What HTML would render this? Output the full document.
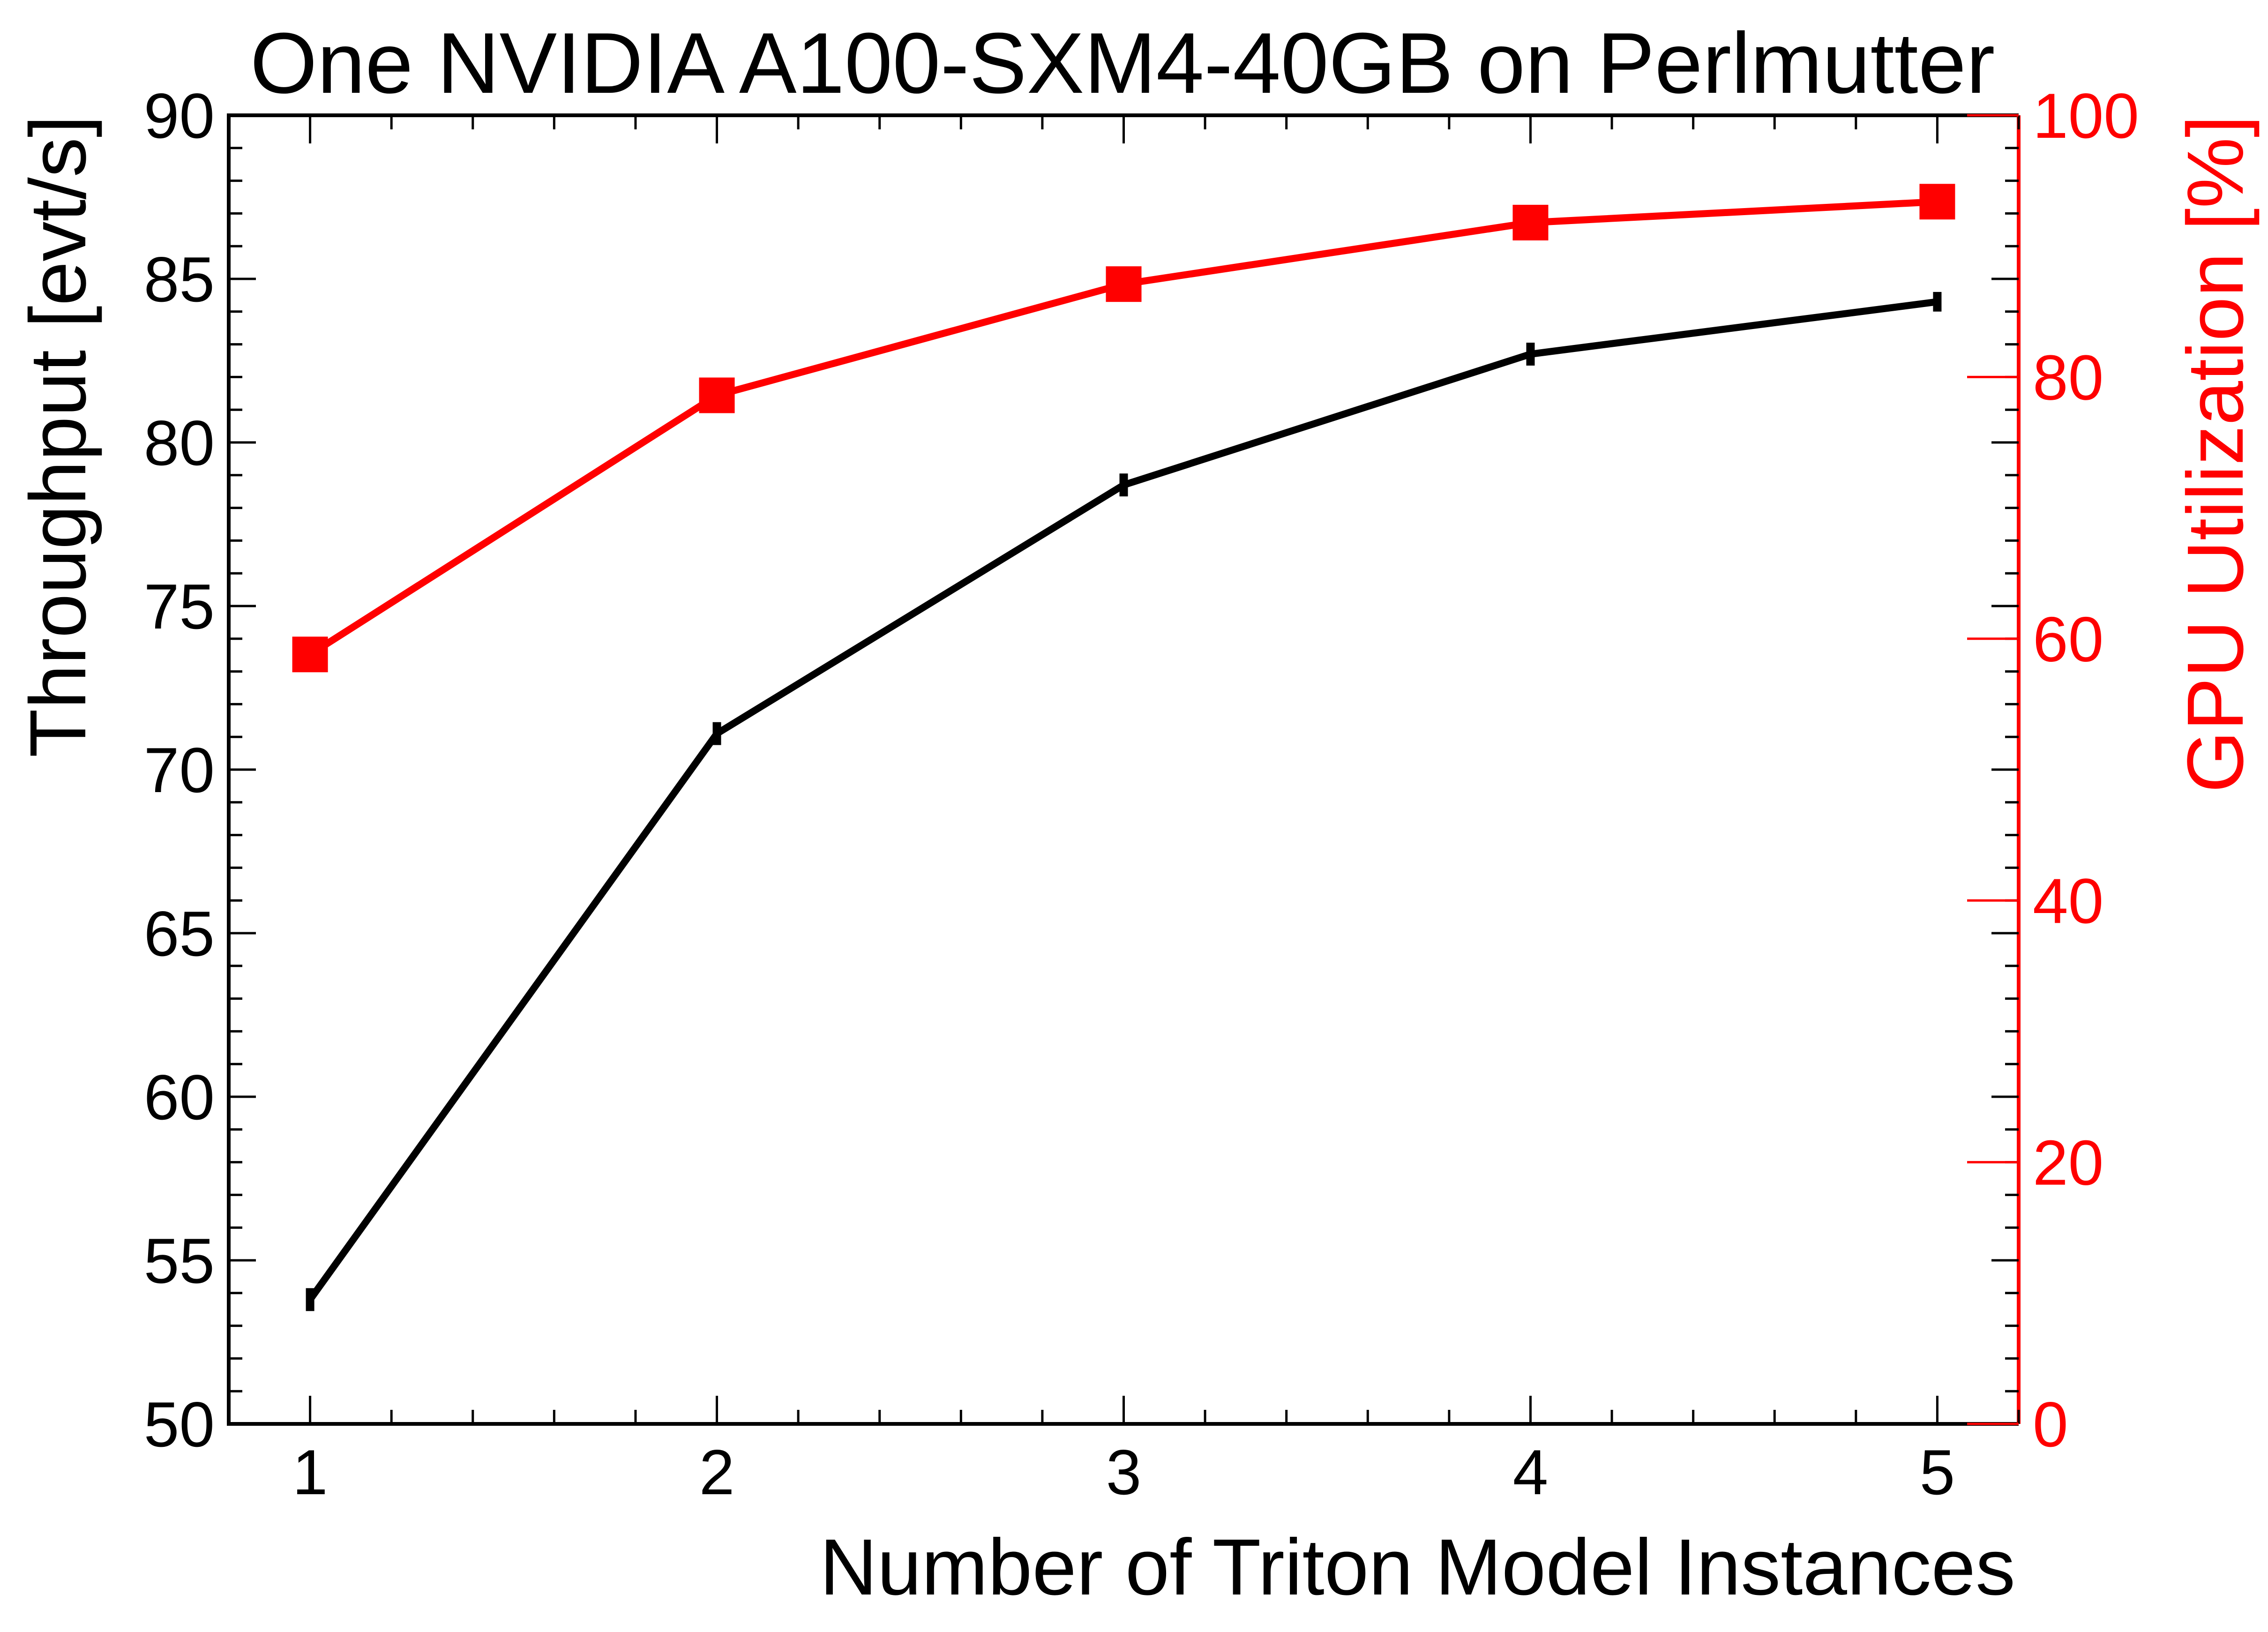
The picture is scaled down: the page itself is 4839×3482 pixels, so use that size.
<!DOCTYPE html>
<html><head><meta charset="utf-8"><style>
html,body{margin:0;padding:0;background:#fff;}
svg{display:block;font-family:"Liberation Sans",sans-serif;}
</style></head><body>
<svg id="chart" width="4839" height="3482" viewBox="0 0 4839 3482" xmlns="http://www.w3.org/2000/svg">
<rect width="4839" height="3482" fill="#fff"/>
<text x="2395" y="198" font-size="184" text-anchor="middle">One NVIDIA A100-SXM4-40GB on Perlmutter</text>
<text x="4300" y="3402" font-size="170" text-anchor="end">Number of Triton Model Instances</text>
<text transform="translate(182,246) rotate(-90)" font-size="170" text-anchor="end">Throughput [evt/s]</text>
<text transform="translate(4785,246) rotate(-90)" font-size="170" text-anchor="end" fill="#ff0000">GPU Utilization [%]</text>
<g id="axes"></g>
<g id="series"></g>
</svg>
<script>
const categories = [1, 2, 3, 4, 5];
const throughput = [53.8, 71.1, 78.7, 82.7, 84.3];
const throughputErr = [0.35, 0.35, 0.35, 0.35, 0.3];
const gpuUtil = [58.8, 78.6, 87.1, 91.8, 93.4];
const yTicks = [50, 55, 60, 65, 70, 75, 80, 85, 90];
const y2Ticks = [0, 20, 40, 60, 80, 100];
const xTicks = [1, 2, 3, 4, 5];

const L = 488, R = 4307, T = 246, B = 3038;
const xMin = 0.8, xMax = 5.2, yMin = 50, yMax = 90, y2Min = 0, y2Max = 100;
const xs = v => L + (v - xMin) / (xMax - xMin) * (R - L);
const ys = v => B - (v - yMin) / (yMax - yMin) * (B - T);
const y2s = v => B - (v - y2Min) / (y2Max - y2Min) * (B - T);
const NS = "http://www.w3.org/2000/svg";
const axes = document.getElementById('axes');
const series = document.getElementById('series');
function mk(tag, attrs, parent) {
  const e = document.createElementNS(NS, tag);
  for (const k in attrs) e.setAttribute(k, attrs[k]);
  parent.appendChild(e);
  return e;
}
let f = mk('path', {d: `M${R},${T} L${L},${T} L${L},${B} L${R},${B}`, fill: 'none', stroke: '#000', 'stroke-width': 8}, axes);


let ra = mk('line', {x1: R, y1: T, x2: R, y2: B, stroke: '#ff0000', 'stroke-width': 8}, axes);


for (let v = yMin; v <= yMax; v += 1) {
  const major = v % 5 === 0;
  const len = major ? 58 : 29;
  const y = ys(v);
  let t = mk('line', {x1: L, y1: y, x2: L + len, y2: y, stroke: '#000', 'stroke-width': 5}, axes);
  
  
  let t2 = mk('line', {x1: R, y1: y, x2: R - len, y2: y, stroke: '#000', 'stroke-width': 5}, axes);
  
  
}
yTicks.forEach(v => {
  let tx = mk('text', {x: L - 30, y: ys(v) + 48, 'font-size': 136, 'text-anchor': 'end'}, axes);
  tx.textContent = v;
  
  
});
for (let i = 0; i <= 22; i++) {
  const v = xMin + i * 0.2;
  const major = Math.abs(v - Math.round(v)) < 1e-6;
  const len = major ? 60 : 30;
  const x = xs(v);
  let t = mk('line', {x1: x, y1: B, x2: x, y2: B - len, stroke: '#000', 'stroke-width': 5}, axes);
  
  
  let t2 = mk('line', {x1: x, y1: T, x2: x, y2: T + len, stroke: '#000', 'stroke-width': 5}, axes);
  
  
}
xTicks.forEach(v => {
  let tx = mk('text', {x: xs(v), y: B + 150, 'font-size': 136, 'text-anchor': 'middle'}, axes);
  tx.textContent = v;
  
  
});
y2Ticks.forEach(v => {
  const y = y2s(v);
  let t = mk('line', {x1: R, y1: y, x2: R - 110, y2: y, stroke: '#ff0000', 'stroke-width': 5}, axes);
  
  
  let tx = mk('text', {x: R + 30, y: y + 48, 'font-size': 136, fill: '#ff0000'}, axes);
  tx.textContent = v;
  
  
});
let pts = categories.map((c, i) => `${xs(c)},${ys(throughput[i])}`).join(' ');
let pl = mk('polyline', {points: pts, fill: 'none', stroke: '#000', 'stroke-width': 15}, series);


categories.forEach((c, i) => {
  let e = mk('line', {x1: xs(c), y1: ys(throughput[i] - throughputErr[i]), x2: xs(c), y2: ys(throughput[i] + throughputErr[i]), stroke: '#000', 'stroke-width': 18}, series);
  
  
});
let pts2 = categories.map((c, i) => `${xs(c)},${y2s(gpuUtil[i])}`).join(' ');
let pl2 = mk('polyline', {points: pts2, fill: 'none', stroke: '#ff0000', 'stroke-width': 15}, series);


categories.forEach((c, i) => {
  let m = mk('rect', {x: xs(c) - 38, y: y2s(gpuUtil[i]) - 38, width: 76, height: 76, fill: '#ff0000'}, series);
  
  
});
</script>
</body></html>
